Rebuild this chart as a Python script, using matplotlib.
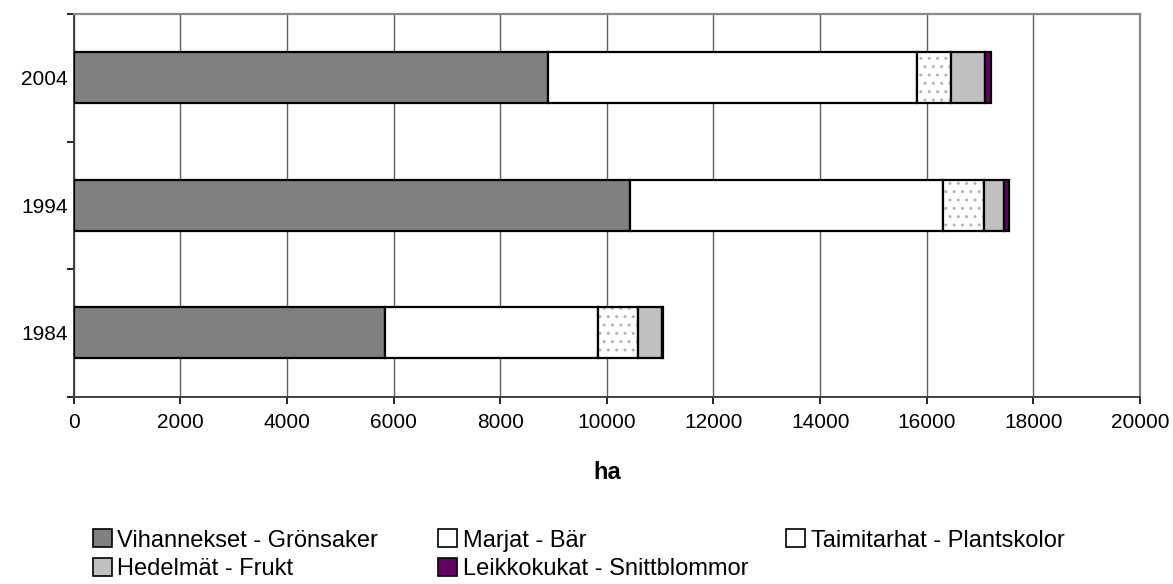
import numpy as np
import matplotlib
matplotlib.use("Agg")
import matplotlib.pyplot as plt
from matplotlib.patches import Patch

plt.rcParams['font.family'] = ['Liberation Sans', 'DejaVu Sans']
plt.rcParams['hatch.linewidth'] = 1.0

# Data (ha)
years = ["1984", "1994", "2004"]
vihannekset = [5840, 10440, 8900]
marjat = [4000, 5860, 6920]
taimitarhat = [745, 780, 640]
hedelmat = [445, 370, 640]
leikkokukat = [30, 90, 100]

series_names = ["Vihannekset - Grönsaker", "Marjat - Bär", "Taimitarhat - Plantskolor",
                "Hedelmät - Frukt", "Leikkokukat - Snittblommor"]
series_values = [vihannekset, marjat, taimitarhat, hedelmat, leikkokukat]
colors = ["#808080", "#ffffff", "#ffffff", "#c0c0c0", "#660066"]
hatches = [None, None, "..", None, None]

fig = plt.figure(figsize=(11.73, 5.84), dpi=100)
ax = fig.add_axes([0.0628, 0.3207, 0.9091, 0.6553])

y = np.arange(len(years))
left = np.zeros(len(years))
handles = []
for name, vals, col, h in zip(series_names, series_values, colors, hatches):
    vals = np.array(vals, dtype=float)
    if h:
        ax.barh(y, vals, left=left, height=0.4, color=col, edgecolor="#b4b4b4",
                hatch=h, linewidth=0, zorder=3)
    ax.barh(y, vals, left=left, height=0.4, color=col if not h else "none",
            edgecolor="black", linewidth=1.6, zorder=3)
    handles.append(Patch(facecolor=col, edgecolor="black", linewidth=1.2, label=name))
    left += vals

ax.set_xlim(0, 20000)
ax.set_ylim(-0.5, 2.5)
ax.set_xticks(np.arange(0, 20001, 2000))
ax.set_yticks(y)
ax.set_yticklabels(years)
ax.set_yticks([-0.5, 0.5, 1.5, 2.5], minor=True)
ax.tick_params(axis="y", which="major", length=0, pad=4, labelsize=15)
ax.tick_params(axis="y", which="minor", length=5, width=1.2, direction="out")
ax.tick_params(axis="x", length=5, width=1.2, direction="out", pad=7, labelsize=15)

ax.grid(axis="x", color="#606060", linewidth=1.0, zorder=0)
ax.set_axisbelow(True)
for s in ["left", "bottom"]:
    ax.spines[s].set_color("#404040")
    ax.spines[s].set_linewidth(1.4)
for s in ["top", "right"]:
    ax.spines[s].set_color("#888888")
    ax.spines[s].set_linewidth(1.6)

ax.set_xlabel("ha", fontsize=17, fontweight="bold", va="center")
ax.xaxis.set_label_coords(0.5, -0.198)

# legend laid out like the original: three columns, two rows
cols = [[handles[0], handles[3]], [handles[1], handles[4]], [handles[2]]]
xs = [0.0790, 0.3735, 0.6700]
for hs, x0 in zip(cols, xs):
    fig.legend(handles=hs, loc="upper left", bbox_to_anchor=(x0, 0.0935),
               frameon=False, fontsize=17, handlelength=0.8, handleheight=0.8,
               handletextpad=0.25, labelspacing=0.28, borderaxespad=0, borderpad=0)

fig.savefig("out.png", dpi=100)
